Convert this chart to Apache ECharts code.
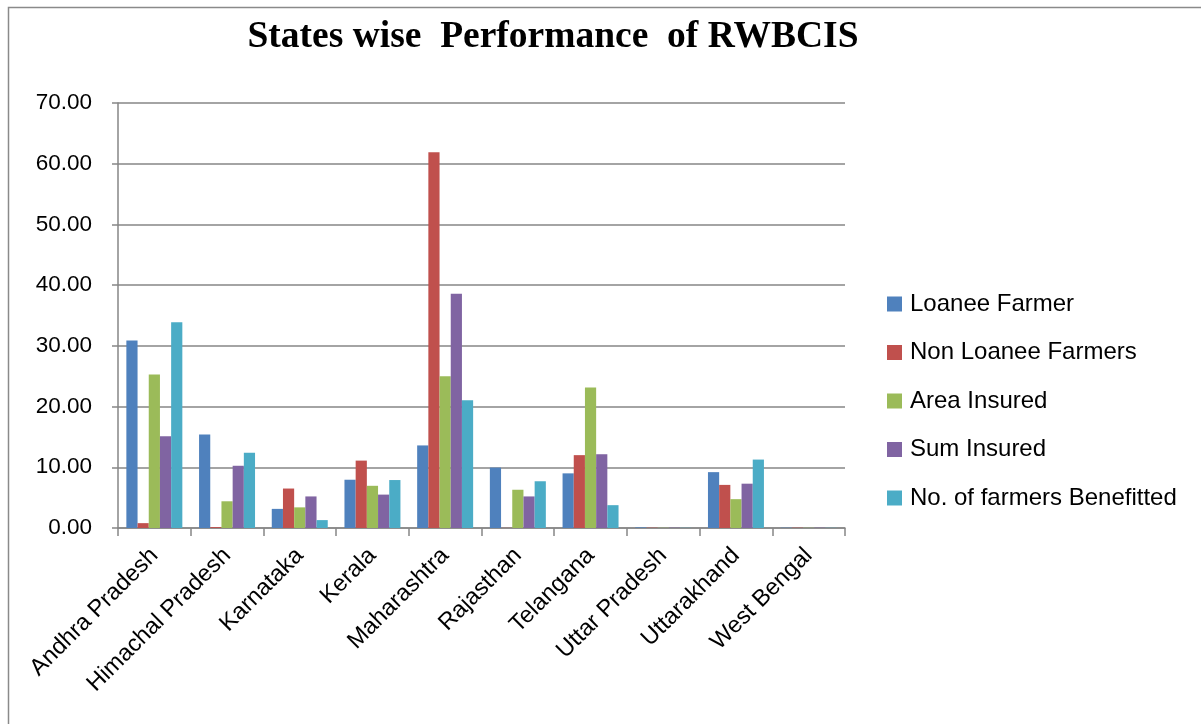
<!DOCTYPE html>
<html>
<head>
<meta charset="utf-8">
<script src="https://cdn.jsdelivr.net/npm/echarts@6/dist/echarts.min.js"></script>
<style>
html,body{margin:0;padding:0;background:#fff;}
#chart{width:1201px;height:724px;}
</style>
</head>
<body>
<div id="chart"></div>
<script>
const titleText = 'States wise  Performance  of RWBCIS';
const states = ['Andhra Pradesh','Himachal Pradesh','Karnataka','Kerala','Maharashtra','Rajasthan','Telangana','Uttar Pradesh','Uttarakhand','West Bengal'];
const seriesNames = ['Loanee Farmer','Non Loanee Farmers','Area Insured','Sum Insured','No. of farmers Benefitted'];
const loaneeFarmer = [30.9, 15.4, 3.15, 7.95, 13.6, 9.95, 9.0, 0.1, 9.2, 0.05];
const nonLoaneeFarmers = [0.8, 0.15, 6.5, 11.1, 61.9, 0.02, 12.0, 0.05, 7.1, 0.05];
const areaInsured = [25.3, 4.4, 3.4, 6.95, 25.0, 6.3, 23.15, 0.03, 4.75, 0.03];
const sumInsured = [15.1, 10.25, 5.2, 5.5, 38.6, 5.2, 12.15, 0.05, 7.3, 0.05];
const farmersBenefitted = [33.9, 12.4, 1.3, 7.9, 21.05, 7.7, 3.76, 0.03, 11.27, 0.03];
const colors = ['#4F81BD','#C0504D','#9BBB59','#8064A2','#4BACC6'];

const allData = [loaneeFarmer, nonLoaneeFarmers, areaInsured, sumInsured, farmersBenefitted];
const chart = echarts.init(document.getElementById('chart'));
const font = 'Liberation Sans, Arial, sans-serif';
chart.setOption({
  animation: false,
  color: colors,
  title: {
    text: titleText,
    left: 548, textAlign: 'center', top: 13,
    textStyle: {fontFamily: 'Liberation Serif, Times New Roman, serif', fontWeight: 'bold', fontSize: 37.5, color: '#000'}
  },
  graphic: [{
    type: 'rect', silent: true,
    shape: {x: 8.5, y: 7.5, width: 1300, height: 800},
    style: {fill: 'none', stroke: '#8a8a8a', lineWidth: 1.5}
  }],
  legend: {
    orient: 'vertical', left: 887, top: 292, padding: 0,
    itemWidth: 15, itemHeight: 15, itemGap: 24.5,
    icon: 'rect',
    textStyle: {fontFamily: font, fontSize: 24, lineHeight: 24, color: '#000', padding: [0,0,0,3]},
    data: seriesNames
  },
  grid: {left: 118, right: 356, top: 103, bottom: 196, containLabel: false},
  xAxis: {
    type: 'category', data: states,
    axisLine: {lineStyle: {color: '#868686', width: 1.5}},
    axisTick: {show: true, length: 8, lineStyle: {color: '#868686', width: 1.5}},
    axisLabel: {rotate: 45, margin: 24, fontFamily: font, fontSize: 23.5, color: '#000', interval: 0}
  },
  yAxis: {
    type: 'value', min: 0, max: 70, interval: 10,
    axisLine: {show: true, lineStyle: {color: '#868686', width: 1.5}},
    axisTick: {show: true, length: 6, lineStyle: {color: '#868686', width: 1.5}},
    splitLine: {lineStyle: {color: '#868686', width: 1.5}},
    axisLabel: {margin: 26, fontFamily: font, fontSize: 22.5, color: '#000', formatter: v => v.toFixed(2)}
  },
  series: seriesNames.map((n, i) => ({
    name: n, type: 'bar', data: allData[i],
    barGap: '0%', barCategoryGap: '23%',
    itemStyle: {color: colors[i]}
  }))
});
</script>
</body>
</html>
